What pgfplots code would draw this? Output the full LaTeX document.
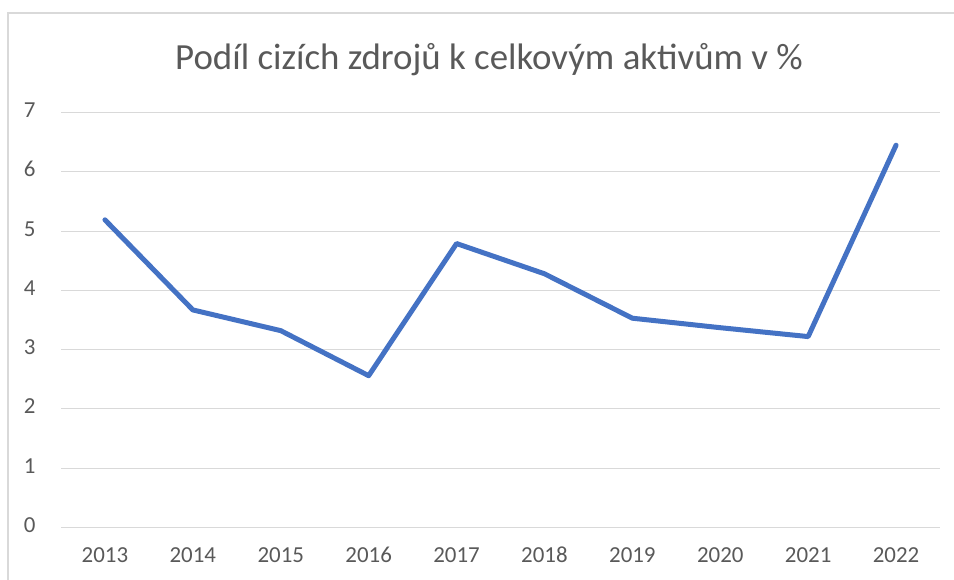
\documentclass[border=0pt]{standalone}
\usepackage{pgfplots}
\pgfplotsset{compat=1.18}
\usepackage{fontspec}
\setmainfont{Carlito}
\definecolor{txt}{HTML}{595959}
\definecolor{gridc}{HTML}{D9D9D9}
\definecolor{ser}{HTML}{4472C4}
\begin{document}
\begin{tikzpicture}[x=1bp,y=1bp]
\useasboundingbox (0,0) rectangle (954,580);
\draw[gridc, line width=1.2bp] (8,-5) -- (8,567) -- (960,567);
\node[txt, font=\fontsize{37}{40}\selectfont, anchor=center] at (489,520) {Podíl cizích zdrojů k celkovým aktivům v \%};
\begin{axis}[
  at={(61bp,52.6bp)}, anchor=south west,
  scale only axis, width=879bp, height=414.8bp,
  xmin=-0.5, xmax=9.5, ymin=0, ymax=7,
  xtick={0,...,9},
  xticklabels={2013,2014,2015,2016,2017,2018,2019,2020,2021,2022},
  ytick={0,...,7},
  axis line style={draw=none},
  major tick length=0pt,
  ymajorgrids, xmajorgrids=false, grid style={gridc, line width=1.2bp},
  tick label style={txt, font=\fontsize{23}{25}\selectfont},
  typeset ticklabels with strut,
  /pgf/number format/assume math mode=true,
  xticklabel style={yshift=-14bp},
  yticklabel style={xshift=-22bp},
  clip=false,
]
\addplot[ser, line width=5bp, line join=round, line cap=round] coordinates {
(0,5.19) (1,3.67) (2,3.32) (3,2.56) (4,4.79) (5,4.28) (6,3.53) (7,3.37) (8,3.22) (9,6.45)
};
\end{axis}
\end{tikzpicture}
\end{document}
